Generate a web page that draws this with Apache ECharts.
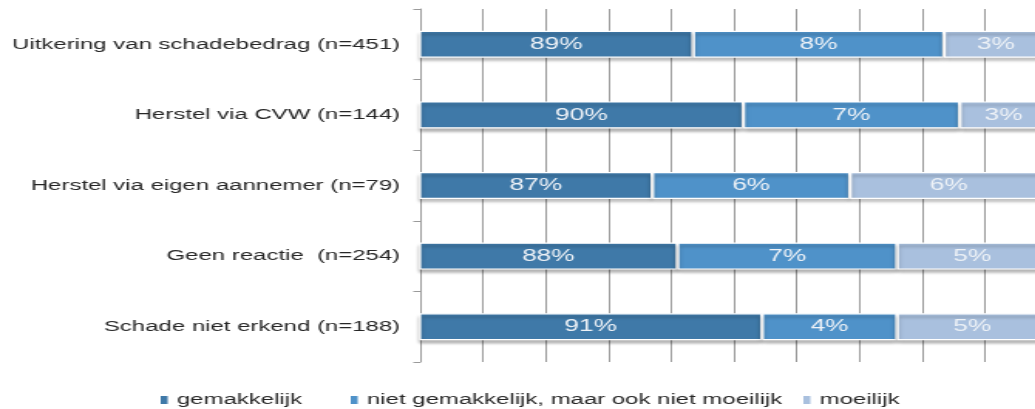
<!DOCTYPE html>
<html>
<head>
<meta charset="utf-8">
<script src="https://cdn.jsdelivr.net/npm/echarts@6/dist/echarts.min.js"></script>
<style>
  html, body { margin: 0; padding: 0; overflow: hidden; background: #fff; }
  /* the reference picture is stretched sideways, so the chart is too */
  #chart { width: 678px; height: 409px; transform: scaleX(1.545); transform-origin: 0 0; }
</style>
</head>
<body>
<div id="chart"></div>
<script>
  var categories = [
    "Uitkering van schadebedrag (n=451)",
    "Herstel via CVW (n=144)",
    "Herstel via eigen aannemer (n=79)",
    "Geen reactie  (n=254)",
    "Schade niet erkend (n=188)"
  ];
  var seriesNames = ["gemakkelijk", "niet gemakkelijk, maar ook niet moeilijk", "moeilijk"];
  var gemakkelijk = [88.7, 90.3, 87.4, 88.2, 90.9];
  var nietGemakkelijk = [8.0, 6.9, 6.3, 7.0, 4.3];
  var moeilijk = [3.3, 2.8, 6.3, 4.8, 4.8];
  var xTicks = { min: 80, max: 100, interval: 2 };

  var colors = ["#3f79a8", "#4f92c9", "#a9c0de"];
  var font = "'Liberation Sans', Arial, sans-serif";

  function makeSeries(name, data) {
    return {
      name: name,
      type: "bar",
      stack: "total",
      barWidth: 27,
      data: data,
      itemStyle: {
        borderColor: "#ffffff",
        borderWidth: 1.2,
        shadowColor: "rgba(0,0,0,0.3)",
        shadowBlur: 3,
        shadowOffsetY: 3
      },
      label: {
        show: true,
        position: "inside",
        color: "#eef2f7",
        fontFamily: font,
        fontSize: 17,
        formatter: function (p) { return Math.round(p.value) + "%"; }
      }
    };
  }

  // one legend per item, the gaps in the picture are not even
  var legendLefts = [102, 225, 518];
  function makeLegend(i) {
    return {
      left: legendLefts[i],
      top: 392,
      padding: 0,
      itemWidth: 6.5,
      itemHeight: 10,
      icon: "rect",
      data: [seriesNames[i]],
      textStyle: { color: "#262626", fontSize: 15.5, fontFamily: font }
    };
  }

  var chart = echarts.init(document.getElementById("chart"));
  chart.setOption({
    animation: false,
    color: colors,
    textStyle: { fontFamily: font },
    legend: [makeLegend(0), makeLegend(1), makeLegend(2)],
    grid: { left: 272, right: 0, top: 9, bottom: 47 },
    xAxis: {
      type: "value",
      min: xTicks.min,
      max: xTicks.max,
      interval: xTicks.interval,
      axisLabel: { show: false },
      axisLine: { show: false },
      axisTick: { show: false },
      splitLine: { lineStyle: { color: "#9a9a9a", width: 1 } }
    },
    yAxis: {
      type: "category",
      inverse: true,
      data: categories,
      axisLine: { show: true, lineStyle: { color: "#9a9a9a", width: 1 } },
      axisTick: { show: true, length: 4.5, lineStyle: { color: "#9a9a9a" } },
      axisLabel: { color: "#262626", fontSize: 15.5, fontFamily: font, margin: 13 }
    },
    series: [
      makeSeries(seriesNames[0], gemakkelijk),
      makeSeries(seriesNames[1], nietGemakkelijk),
      makeSeries(seriesNames[2], moeilijk)
    ]
  });
</script>
</body>
</html>
